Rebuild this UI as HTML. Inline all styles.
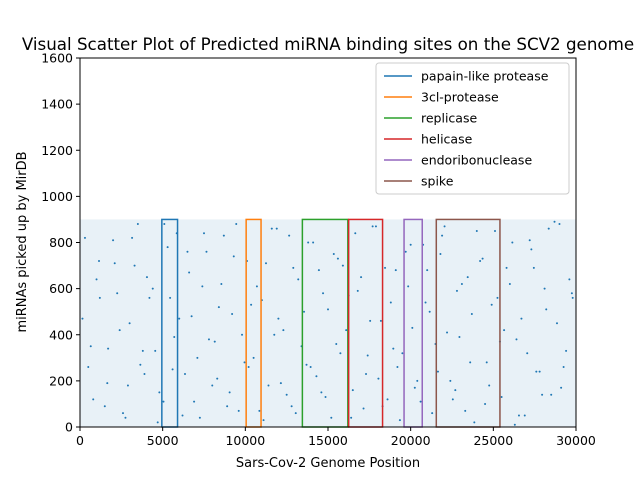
<!DOCTYPE html>
<html><head><meta charset="utf-8"><style>
body{margin:0;background:#fff;}
svg{display:block;font-family:"DejaVu Sans","Liberation Sans",sans-serif;}
</style></head><body>
<svg id="chart" width="640" height="480" viewBox="0 0 640 480" xmlns="http://www.w3.org/2000/svg">
<rect width="640" height="480" fill="#fff"/>
<text x="328" y="50" text-anchor="middle" font-size="16.7" fill="#000">Visual Scatter Plot of Predicted miRNA binding sites on the SCV2 genome</text>
<g id="plot"></g>
<g id="axes"></g>
<g id="legend"></g>
<text x="328" y="467" text-anchor="middle" font-size="13">Sars-Cov-2 Genome Position</text>
<text transform="translate(26,242) rotate(-90)" text-anchor="middle" font-size="13">miRNAs picked up by MirDB</text>
</svg>
<script>
const xTicks=[0,5000,10000,15000,20000,25000,30000];
const yTicks=[0,200,400,600,800,1000,1200,1400,1600];
const regionNames=["papain-like protease","3cl-protease","replicase","helicase","endoribonuclease","spike"];
const regionStart=[4950,10050,13450,16250,19600,21550];
const regionEnd=[5900,10950,16200,18300,20700,25400];
const regionHeight=[900,900,900,900,900,900];
const regionColors=["#1f77b4","#ff7f0e","#2ca02c","#d62728","#9467bd","#8c564b"];
const pointX=[300,800,1200,1700,2100,2600,3000,3500,3900,4400,4800,5300,5700,6200,6600,7100,7500,8000,8400,8900,9300,9800,10200,10700,11100,11600,12000,12500,12900,13400,13800,14300,14700,15200,15600,16100,16500,17000,17400,17900,18300,18800,19200,19700,20100,20600,21000,21500,21900,22400,22800,23300,23700,24200,24600,25100,25500,26000,26400,26900,27300,27800,28200,28700,29100,29600,
500,1000,1500,2000,2400,2900,3300,3800,4200,4700,5100,5600,6000,6500,6900,7400,7800,8300,8700,9200,9600,10100,10500,11000,11400,11900,12300,12800,13200,13700,14100,14600,15000,15500,15900,16400,16800,17300,17700,18200,18600,19100,19500,20000,20400,20900,21300,21800,22200,22700,23100,23600,24000,24500,24900,25400,25800,26300,26700,27200,27600,28100,28500,29000,29400,29800,
150,650,1150,1650,2250,2750,3150,3650,4050,4550,5050,5450,5850,6350,6750,7250,7650,8150,8550,9050,9450,9950,10350,10850,11250,11750,12150,12650,13050,13550,13950,14450,14850,15350,15750,16250,16650,17150,17550,18050,18450,18950,19350,19850,20250,20750,21150,21650,22050,22550,22950,23450,23850,24350,24750,25250,25650,26150,26550,27050,27450,27950,28350,28850,29250,29750];
const pointY=[820,120,560,340,710,60,450,880,230,600,150,780,390,50,670,300,840,180,520,90,740,400,260,610,30,860,470,140,690,350,800,220,580,40,730,420,160,650,310,870,90,540,260,760,430,110,680,360,830,200,590,70,490,720,280,850,130,620,380,50,770,240,510,890,170,640,
260,640,90,810,420,180,700,330,560,20,880,250,470,760,110,610,380,210,830,490,70,720,300,550,180,860,420,90,640,270,800,150,510,360,700,40,590,230,870,460,120,680,320,790,200,540,60,750,410,160,620,280,850,100,530,370,690,10,470,810,240,600,140,880,330,560,
470,350,720,190,580,40,820,270,650,330,110,560,840,230,480,40,760,370,620,150,880,280,530,70,710,400,190,830,60,500,260,680,130,750,320,570,840,80,460,210,690,340,30,610,170,790,500,240,870,120,390,650,20,730,180,560,420,800,50,320,690,140,860,450,260,580];
const X0=80,X1=576,Y0=427,Y1=58;
const sx=v=>X0+(v-0)/(30000-0)*(X1-X0);
const sy=v=>Y0-(v-0)/(1600-0)*(Y0-Y1);
const NS="http://www.w3.org/2000/svg";
function mk(t,a,p){const e=document.createElementNS(NS,t);for(const k in a)e.setAttribute(k,a[k]);p.appendChild(e);return e;}
const plot=document.getElementById('plot'),axes=document.getElementById('axes'),leg=document.getElementById('legend');
const tint=mk('rect',{x:sx(0),y:sy(900),width:sx(30000)-sx(0),height:sy(0)-sy(900),fill:"#1f77b4","fill-opacity":"0.10"},plot);


for(let i=0;i<pointX.length;i++){
 const c=mk('circle',{cx:sx(pointX[i]),cy:sy(pointY[i]),r:1,fill:"#1f77b4"},plot);
 
 
}
for(let i=0;i<regionNames.length;i++){
 const r=mk('rect',{x:sx(regionStart[i]),y:sy(regionHeight[i]),width:sx(regionEnd[i])-sx(regionStart[i]),height:sy(0)-sy(regionHeight[i]),fill:"none",stroke:regionColors[i],"stroke-width":1.5},plot);
 
 
}
const frame=mk('rect',{x:X0,y:Y1,width:X1-X0,height:Y0-Y1,fill:"none",stroke:"#000","stroke-width":1},axes);


xTicks.forEach(t=>{
 const l=mk('line',{x1:sx(t),x2:sx(t),y1:Y0,y2:Y0+4,stroke:"#000"},axes);
 
 
 const tx=mk('text',{x:sx(t),y:Y0+18,"text-anchor":"middle","font-size":12.5},axes);
 tx.textContent=t;
 
 
});
yTicks.forEach(t=>{
 const l=mk('line',{x1:X0-4,x2:X0,y1:sy(t),y2:sy(t),stroke:"#000"},axes);
 
 
 const tx=mk('text',{x:X0-7,y:sy(t)+4.5,"text-anchor":"end","font-size":12.5},axes);
 tx.textContent=t;
 
 
});
const lb=mk('rect',{x:376,y:63,width:193,height:131,rx:3,fill:"#fff","fill-opacity":0.8,stroke:"#ccc"},leg);


regionNames.forEach((n,i)=>{
 const y=76+i*21;
 const g=mk('g',{},leg);
 
 
 mk('line',{x1:384,x2:412,y1:y,y2:y,stroke:regionColors[i],"stroke-width":1.5},g);
 const t=mk('text',{x:421,y:y+4.5,"font-size":12.5},g);
 t.textContent=n;
});
</script>
</body></html>
